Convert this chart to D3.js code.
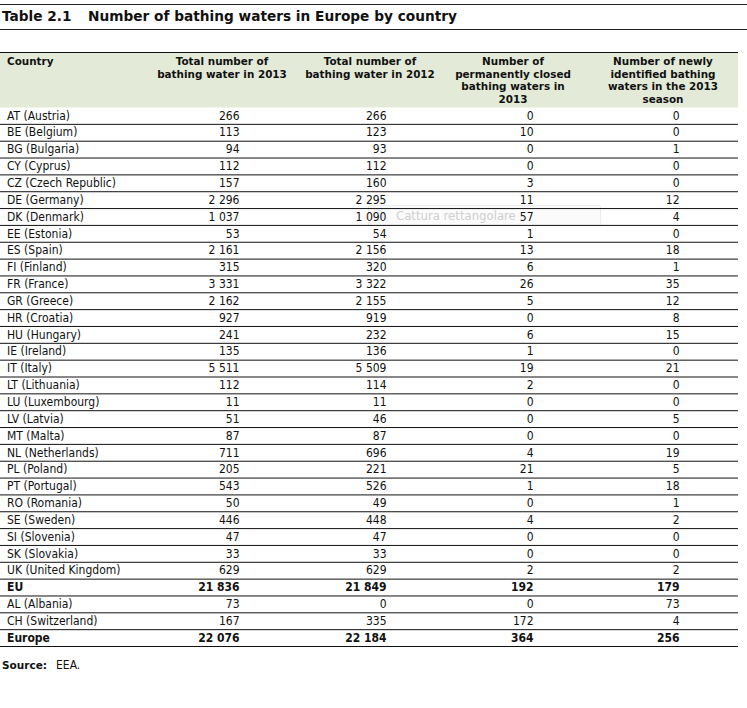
<!DOCTYPE html>
<html>
<head>
<meta charset="utf-8">
<script src="https://cdn.jsdelivr.net/npm/d3@7/dist/d3.min.js"></script>
<style>
  html, body { margin: 0; padding: 0; background: #fff; }
  svg { display: block; }
</style>
</head>
<body>
<svg id="chart" width="747" height="708"></svg>
<script>
// ---- DATA ----
const titleNumber = "Table 2.1";
const titleText = "Number of bathing waters in Europe by country";
const headers = [
  ["Country"],
  ["Total number of", "bathing water in 2013"],
  ["Total number of", "bathing water in 2012"],
  ["Number of", "permanently closed", "bathing waters in", "2013"],
  ["Number of newly", "identified bathing", "waters in the 2013", "season"]
];
const countries = [
  "AT (Austria)", "BE (Belgium)", "BG (Bulgaria)", "CY (Cyprus)", "CZ (Czech Republic)",
  "DE (Germany)", "DK (Denmark)", "EE (Estonia)", "ES (Spain)", "FI (Finland)",
  "FR (France)", "GR (Greece)", "HR (Croatia)", "HU (Hungary)", "IE (Ireland)",
  "IT (Italy)", "LT (Lithuania)", "LU (Luxembourg)", "LV (Latvia)", "MT (Malta)",
  "NL (Netherlands)", "PL (Poland)", "PT (Portugal)", "RO (Romania)", "SE (Sweden)",
  "SI (Slovenia)", "SK (Slovakia)", "UK (United Kingdom)", "EU", "AL (Albania)",
  "CH (Switzerland)", "Europe"
];
const total2013 = [266, 113, 94, 112, 157, 2296, 1037, 53, 2161, 315, 3331, 2162, 927, 241, 135,
  5511, 112, 11, 51, 87, 711, 205, 543, 50, 446, 47, 33, 629, 21836, 73, 167, 22076];
const total2012 = [266, 123, 93, 112, 160, 2295, 1090, 54, 2156, 320, 3322, 2155, 919, 232, 136,
  5509, 114, 11, 46, 87, 696, 221, 526, 49, 448, 47, 33, 629, 21849, 0, 335, 22184];
const closed2013 = [0, 10, 0, 0, 3, 11, 57, 1, 13, 6, 26, 5, 0, 6, 1,
  19, 2, 0, 0, 0, 4, 21, 1, 0, 4, 0, 0, 2, 192, 0, 172, 364];
const newly2013 = [0, 0, 1, 0, 0, 12, 4, 0, 18, 1, 35, 12, 8, 15, 0,
  21, 0, 0, 5, 0, 19, 5, 18, 1, 2, 0, 0, 2, 179, 73, 4, 256];
const boldRows = ["EU", "Europe"];
const sourceLabel = "Source:";
const sourceText = "EEA.";
const overlayText = "Cattura rettangolare";

// ---- LAYOUT ----
const svg = d3.select("#chart");
const tableLeft = 0, tableRight = 738;
const headerTop = 52.5, headerBottom = 107.5, tableBottom = 646.5;
const bodyFont = "'DejaVu Sans Condensed', 'DejaVu Sans', sans-serif";
const headFont = "'DejaVu Sans', Verdana, sans-serif";
const bodySize = 12;

const rows = countries.map((c, i) => ({
  name: c, vals: [total2013[i], total2012[i], closed2013[i], newly2013[i]],
  bold: boldRows.includes(c)
}));

const y = d3.scaleBand().domain(d3.range(rows.length)).range([headerBottom, tableBottom]).padding(0);
const colRight = [239.5, 386.5, 533.5, 679.5];
const headCenter = [222, 370, 513, 663];
const fmt = v => d3.format(",")(v).replace(/,/g, " ");

// Title lines
svg.append("line").attr("x1", 0).attr("x2", 747).attr("y1", 4.5).attr("y2", 4.5).attr("stroke", "#222").attr("stroke-width", 1);
svg.append("line").attr("x1", 0).attr("x2", 747).attr("y1", 29.5).attr("y2", 29.5).attr("stroke", "#222").attr("stroke-width", 1);
svg.append("text").attr("x", 2).attr("y", 21).attr("font-family", headFont).attr("font-weight", "bold")
  .attr("font-size", 13.7).attr("fill", "#111").text(titleNumber);
svg.append("text").attr("x", 88).attr("y", 21).attr("font-family", headFont).attr("font-weight", "bold")
  .attr("font-size", 13.7).attr("fill", "#111").text(titleText);

// Header background
svg.append("rect").attr("x", tableLeft).attr("y", headerTop).attr("width", tableRight - tableLeft)
  .attr("height", headerBottom - headerTop).attr("fill", "#e3ebd8");
svg.append("line").attr("x1", tableLeft).attr("x2", tableRight).attr("y1", headerTop).attr("y2", headerTop)
  .attr("stroke", "#111").attr("stroke-width", 1.2);

// Header text
headers.forEach((lines, ci) => {
  const t = svg.append("text").attr("font-family", headFont).attr("font-weight", "bold")
    .attr("font-size", 10.4).attr("fill", "#111")
    .attr("text-anchor", ci === 0 ? "start" : "middle");
  lines.forEach((ln, li) => {
    t.append("tspan").attr("x", ci === 0 ? 7 : headCenter[ci - 1]).attr("y", 65 + li * 12.7).text(ln);
  });
});

// Overlay (screen-capture tooltip seen in the reference)
const ov = svg.append("g");
ov.append("rect").attr("x", 368.5).attr("y", 205.5).attr("width", 232).attr("height", 20).attr("rx", 2)
  .attr("fill", "#fbfbfb").attr("stroke", "#ececec");
ov.append("circle").attr("cx", 378).attr("cy", 215).attr("r", 5).attr("fill", "none").attr("stroke", "#e4e4e4");
ov.append("text").attr("x", 396).attr("y", 219.5).attr("font-family", bodyFont).attr("font-size", 13)
  .attr("fill", "#cfcfcf").text(overlayText);

// Rows
const g = svg.append("g");
const rowG = g.selectAll("g.row").data(rows).join("g").attr("class", "row")
  .attr("transform", (d, i) => `translate(0,${y(i)})`);
rowG.append("line").attr("x1", tableLeft).attr("x2", tableRight)
  .attr("y1", y.bandwidth()).attr("y2", y.bandwidth())
  .attr("stroke", "#111").attr("stroke-width", 1);
rowG.append("text").attr("x", 7).attr("y", y.bandwidth() * 0.72)
  .attr("font-family", bodyFont).attr("font-size", bodySize)
  .attr("font-weight", d => d.bold ? "bold" : "normal").attr("fill", "#111")
  .text(d => d.name);
rowG.each(function (d) {
  d3.select(this).selectAll("text.val").data(d.vals).join("text").attr("class", "val")
    .attr("x", (v, k) => colRight[k]).attr("y", y.bandwidth() * 0.72)
    .attr("text-anchor", "end").attr("font-family", bodyFont).attr("font-size", bodySize)
    .attr("font-weight", d.bold ? "bold" : "normal").attr("fill", "#111")
    .text(fmt);
});

// Source
const src = svg.append("text").attr("x", 2).attr("y", 669).attr("font-family", bodyFont)
  .attr("font-size", bodySize).attr("fill", "#111");
src.append("tspan").attr("font-weight", "bold").attr("font-family", headFont).attr("font-size", 10.5).text(sourceLabel);
src.append("tspan").attr("x", 56).text(sourceText);
</script>
</body>
</html>
